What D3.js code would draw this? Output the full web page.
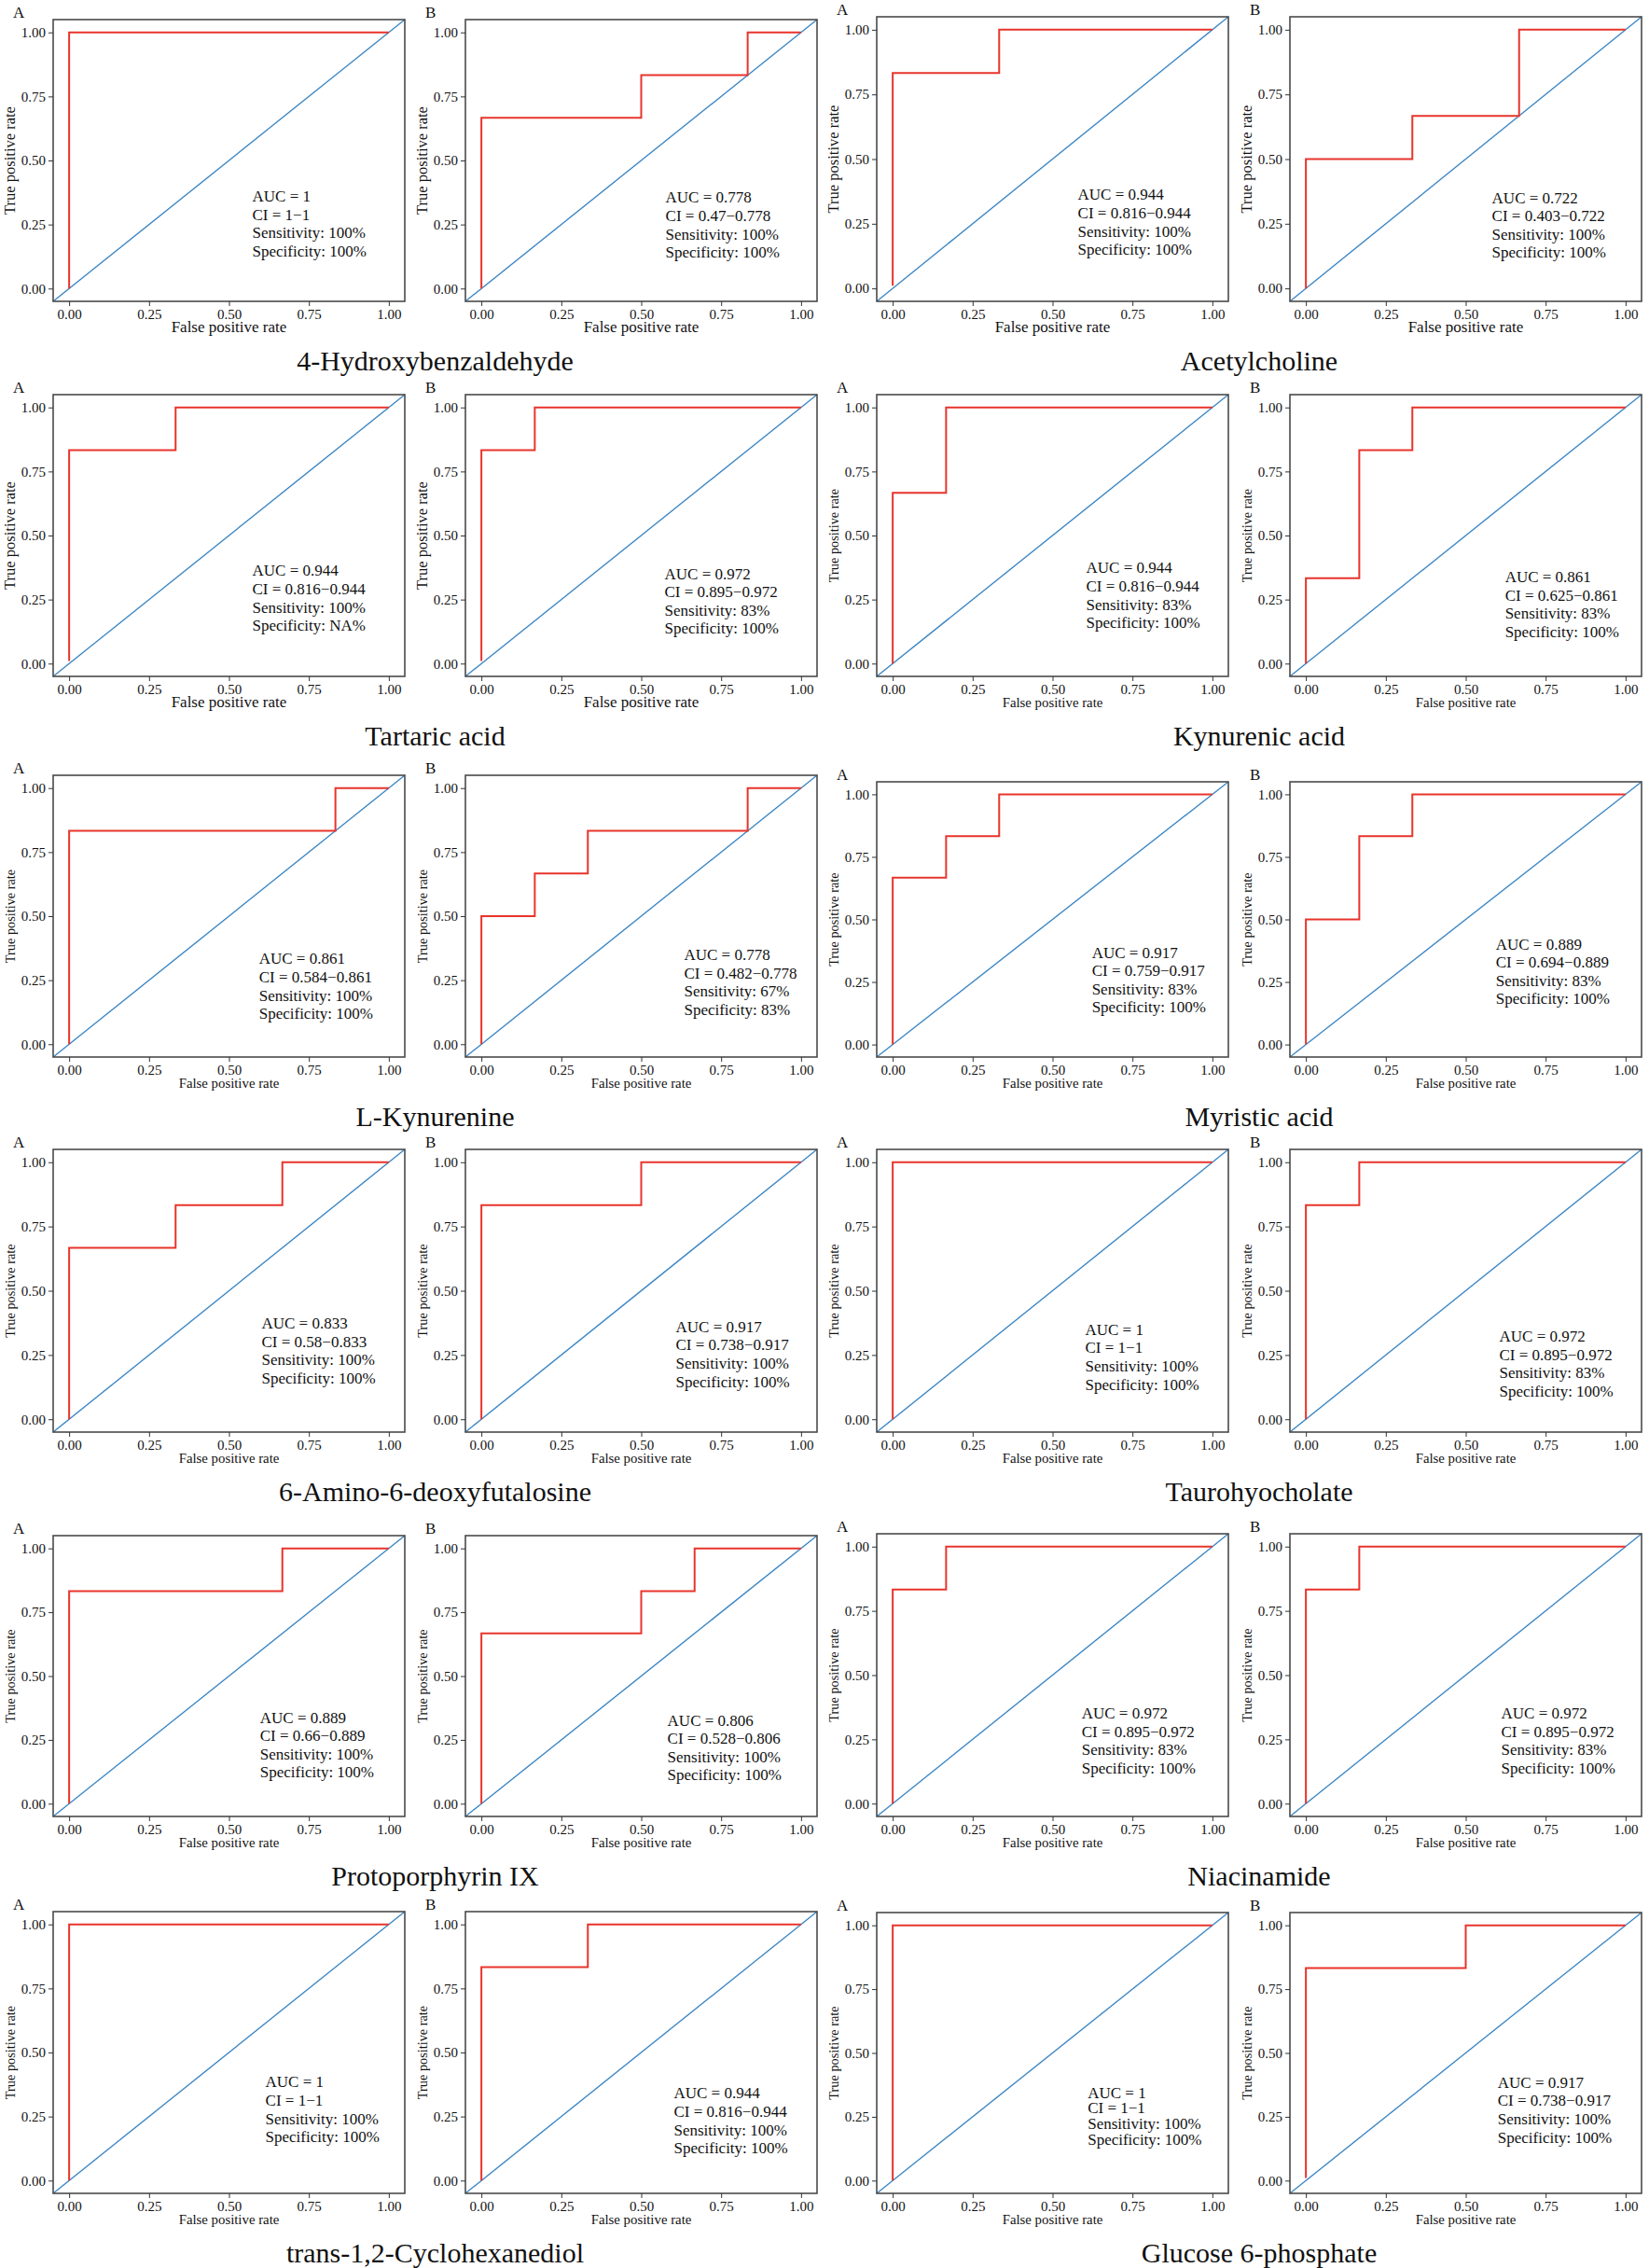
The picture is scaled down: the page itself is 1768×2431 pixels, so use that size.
<!DOCTYPE html>
<html>
<head>
<meta charset="utf-8">
<script src="https://cdn.jsdelivr.net/npm/d3@7.9.0/dist/d3.min.js"></script>
<style>
  body { margin: 0; background: #fff; }
  svg { display: block; }
  text { font-family: "Liberation Serif", "Times New Roman", serif; fill: #111; }
</style>
</head>
<body>
<svg id="chart" width="1768" height="2431"></svg>
<script>
// one title per pair of panels (A, B)
const compounds = [
  "4-Hydroxybenzaldehyde", "Acetylcholine",
  "Tartaric acid", "Kynurenic acid",
  "L-Kynurenine", "Myristic acid",
  "6-Amino-6-deoxyfutalosine", "Taurohyocholate",
  "Protoporphyrin IX", "Niacinamide",
  "trans-1,2-Cyclohexanediol", "Glucose 6-phosphate"
];

// ROC step curves, [fpr, tpr] vertices, A then B for each compound
const rocCurves = [
  [[0, 0], [0, 1], [1, 1]],
  [[0, 0], [0, 0.667], [0.5, 0.667], [0.5, 0.833], [0.833, 0.833], [0.833, 1], [1, 1]],
  [[0, 0.01], [0, 0.833], [0.333, 0.833], [0.333, 1], [1, 1]],
  [[0, 0], [0, 0.5], [0.333, 0.5], [0.333, 0.667], [0.667, 0.667], [0.667, 1], [1, 1]],
  [[0, 0.01], [0, 0.833], [0.333, 0.833], [0.333, 1], [1, 1]],
  [[0, 0.01], [0, 0.833], [0.167, 0.833], [0.167, 1], [1, 1]],
  [[0, 0], [0, 0.667], [0.167, 0.667], [0.167, 1], [1, 1]],
  [[0, 0], [0, 0.333], [0.167, 0.333], [0.167, 0.833], [0.333, 0.833], [0.333, 1], [1, 1]],
  [[0, 0], [0, 0.833], [0.833, 0.833], [0.833, 1], [1, 1]],
  [[0, 0], [0, 0.5], [0.167, 0.5], [0.167, 0.667], [0.333, 0.667], [0.333, 0.833], [0.833, 0.833], [0.833, 1], [1, 1]],
  [[0, 0], [0, 0.667], [0.167, 0.667], [0.167, 0.833], [0.333, 0.833], [0.333, 1], [1, 1]],
  [[0, 0], [0, 0.5], [0.167, 0.5], [0.167, 0.833], [0.333, 0.833], [0.333, 1], [1, 1]],
  [[0, 0], [0, 0.667], [0.333, 0.667], [0.333, 0.833], [0.667, 0.833], [0.667, 1], [1, 1]],
  [[0, 0], [0, 0.833], [0.5, 0.833], [0.5, 1], [1, 1]],
  [[0, 0], [0, 1], [1, 1]],
  [[0, 0], [0, 0.833], [0.167, 0.833], [0.167, 1], [1, 1]],
  [[0, 0], [0, 0.833], [0.667, 0.833], [0.667, 1], [1, 1]],
  [[0, 0], [0, 0.667], [0.5, 0.667], [0.5, 0.833], [0.667, 0.833], [0.667, 1], [1, 1]],
  [[0, 0], [0, 0.833], [0.167, 0.833], [0.167, 1], [1, 1]],
  [[0, 0], [0, 0.833], [0.167, 0.833], [0.167, 1], [1, 1]],
  [[0, 0], [0, 1], [1, 1]],
  [[0, 0], [0, 0.833], [0.333, 0.833], [0.333, 1], [1, 1]],
  [[0, 0], [0, 1], [1, 1]],
  [[0, 0.01], [0, 0.833], [0.5, 0.833], [0.5, 1], [1, 1]]
];

const aucLabels = [
  "1", "0.778", "0.944", "0.722",
  "0.944", "0.972", "0.944", "0.861",
  "0.861", "0.778", "0.917", "0.889",
  "0.833", "0.917", "1", "0.972",
  "0.889", "0.806", "0.972", "0.972",
  "1", "0.944", "1", "0.917"
];
const ciLabels = [
  "1\u22121", "0.47\u22120.778", "0.816\u22120.944", "0.403\u22120.722",
  "0.816\u22120.944", "0.895\u22120.972", "0.816\u22120.944", "0.625\u22120.861",
  "0.584\u22120.861", "0.482\u22120.778", "0.759\u22120.917", "0.694\u22120.889",
  "0.58\u22120.833", "0.738\u22120.917", "1\u22121", "0.895\u22120.972",
  "0.66\u22120.889", "0.528\u22120.806", "0.895\u22120.972", "0.895\u22120.972",
  "1\u22121", "0.816\u22120.944", "1\u22121", "0.738\u22120.917"
];
const sensLabels = [
  "100%", "100%", "100%", "100%",
  "100%", "83%", "83%", "83%",
  "100%", "67%", "83%", "83%",
  "100%", "100%", "100%", "83%",
  "100%", "100%", "83%", "83%",
  "100%", "100%", "100%", "100%"
];
const specLabels = [
  "100%", "100%", "100%", "100%",
  "NA%", "100%", "100%", "100%",
  "100%", "83%", "100%", "100%",
  "100%", "100%", "100%", "100%",
  "100%", "100%", "100%", "100%",
  "100%", "100%", "100%", "100%"
];
const tickValues = [0, 0.25, 0.5, 0.75, 1];

// layout
const colLeft = [57, 499, 940, 1383];
const frameW = 377;
const frameTop = [[21, 18], [423, 423], [831, 838], [1232, 1232], [1646, 1644], [2049, 2050]];
const frameBottom = [323, 725, 1133, 1535, 1947, 2351];
// where the annotation block starts, in data units
const notePos = [
  [0.573, 0.339], [0.576, 0.335], [0.579, 0.342], [0.582, 0.33],
  [0.573, 0.342], [0.573, 0.33], [0.605, 0.353], [0.623, 0.317],
  [0.594, 0.313], [0.634, 0.328], [0.623, 0.347], [0.594, 0.38],
  [0.602, 0.353], [0.608, 0.339], [0.602, 0.328], [0.605, 0.302],
  [0.597, 0.317], [0.582, 0.306], [0.591, 0.331], [0.611, 0.331],
  [0.614, 0.364], [0.602, 0.32], [0.61, 0.324], [0.6, 0.364]
];

const red = "#e8342c";
const blue = "#3d87c4";
const frameColor = "#4a4a4a";

const svg = d3.select("#chart");
svg.append("rect").attr("width", 1768).attr("height", 2431).attr("fill", "#fff");

rocCurves.forEach((curve, i) => {
  const row = Math.floor(i / 4);
  const col = i % 4;
  const half = col < 2 ? 0 : 1;
  const compoundIdx = row * 2 + half;
  const big = compoundIdx < 3;

  const left = colLeft[col];
  const top = frameTop[row][half];
  const bottom = frameBottom[row];

  const x = d3.scaleLinear().domain([-0.05, 1.05]).range([left, left + frameW]);
  const y = d3.scaleLinear().domain([-0.05, 1.05]).range([bottom, top]);

  const g = svg.append("g");

  // diagonal reference line across the whole panel
  g.append("line")
    .attr("x1", x(-0.05)).attr("y1", y(-0.05))
    .attr("x2", x(1.05)).attr("y2", y(1.05))
    .attr("stroke", blue).attr("stroke-width", 1.4);

  const line = d3.line().x((d) => x(d[0])).y((d) => y(d[1]));
  g.append("path")
    .attr("d", line(curve))
    .attr("fill", "none")
    .attr("stroke", red)
    .attr("stroke-width", 2);

  g.append("rect")
    .attr("x", left).attr("y", top)
    .attr("width", frameW).attr("height", bottom - top)
    .attr("fill", "none")
    .attr("stroke", frameColor)
    .attr("stroke-width", 1.6);

  const fmt = d3.format(".2f");

  const xAxis = g.append("g")
    .attr("transform", `translate(0,${bottom})`)
    .call(d3.axisBottom(x).tickValues(tickValues).tickFormat(fmt).tickSize(5).tickPadding(3));
  const yAxis = g.append("g")
    .attr("transform", `translate(${left},0)`)
    .call(d3.axisLeft(y).tickValues(tickValues).tickFormat(fmt).tickSize(5).tickPadding(3));
  [xAxis, yAxis].forEach((ax) => {
    ax.select(".domain").remove();
    ax.selectAll(".tick line").attr("stroke", "#333");
    ax.selectAll(".tick text")
      .attr("fill", "#333")
      .style("font-family", "'Liberation Serif', serif")
      .style("font-size", "15px");
  });

  // axis titles
  g.append("text")
    .attr("x", left + frameW / 2)
    .attr("y", bottom + 33)
    .attr("text-anchor", "middle")
    .style("font-size", big ? "17px" : "14.8px")
    .text("False positive rate");

  g.append("text")
    .attr("transform", `translate(${left - 41},${(top + bottom) / 2}) rotate(-90)`)
    .attr("text-anchor", "middle")
    .style("font-size", big ? "16.5px" : "14.3px")
    .text("True positive rate");

  // panel letter
  g.append("text")
    .attr("x", left - 43)
    .attr("y", top - 2)
    .style("font-size", "17px")
    .text(col % 2 === 0 ? "A" : "B");

  // AUC annotation
  const notes = [
    `AUC = ${aucLabels[i]}`,
    `CI = ${ciLabels[i]}`,
    `Sensitivity: ${sensLabels[i]}`,
    `Specificity: ${specLabels[i]}`
  ];
  const gap = i === 22 ? 16.7 : 19.6;
  g.append("text")
    .attr("x", x(notePos[i][0]))
    .attr("y", y(notePos[i][1]))
    .style("font-size", "17px")
    .selectAll("tspan")
    .data(notes)
    .join("tspan")
    .attr("x", x(notePos[i][0]))
    .attr("dy", (d, k) => (k === 0 ? 0 : gap))
    .text((d) => d);
});

// compound titles under each pair
compounds.forEach((name, k) => {
  const row = Math.floor(k / 2);
  const half = k % 2;
  const cx = (colLeft[half * 2] + colLeft[half * 2 + 1] + frameW) / 2;
  svg.append("text")
    .attr("x", cx)
    .attr("y", frameBottom[row] + 74)
    .attr("text-anchor", "middle")
    .style("font-size", "30px")
    .text(name);
});
</script>
</body>
</html>
